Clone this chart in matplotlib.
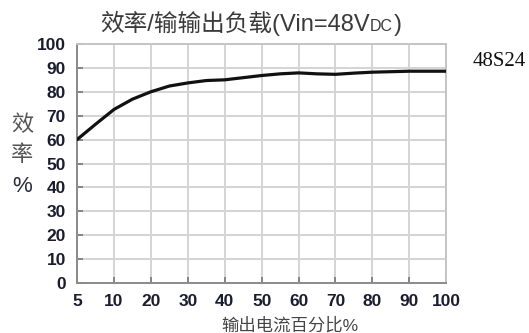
import matplotlib
matplotlib.use("Agg")
import matplotlib.pyplot as plt
import numpy as np

# x axis: load steps, evenly spaced on the chart
load_ticks = [5, 10, 20, 30, 40, 50, 60, 70, 80, 90, 100]
y_ticks = [0, 10, 20, 30, 40, 50, 60, 70, 80, 90, 100]

# efficiency curve, 48V input
load_pct = [5, 7.5, 10, 15, 20, 25, 30, 35, 40, 45, 50, 55, 60, 65, 70, 75, 80, 85, 90, 100]
efficiency = [60, 66.4, 72.6, 76.9, 80, 82.4, 83.7, 84.7, 85.0, 85.9, 86.8, 87.5,
              87.9, 87.5, 87.3, 87.8, 88.2, 88.4, 88.6, 88.6]

CJK = ['Liberation Sans', 'Noto Sans CJK SC', 'DejaVu Sans']
plt.rcParams['font.family'] = CJK

fig = plt.figure(figsize=(5.29, 3.33), dpi=100)
ax = fig.add_axes([0.1456, 0.150, 0.698, 0.718])

tick_pos = np.arange(len(load_ticks))
x = np.interp(load_pct, load_ticks, tick_pos)
ax.plot(x, efficiency, color='#111111', lw=2.3, solid_capstyle='round', zorder=3)

ax.set_xlim(0, len(load_ticks) - 1)
ax.set_ylim(0, 100)
ax.set_xticks(tick_pos)
ax.set_xticklabels([str(v) for v in load_ticks])
ax.set_yticks(y_ticks)

ax.grid(True, color='#d4d4d4', lw=1.4)
ax.set_axisbelow(True)
for side in ['left', 'bottom']:
    ax.spines[side].set_color('#8a8a8a')
    ax.spines[side].set_linewidth(1.4)
for side in ['top', 'right']:
    ax.spines[side].set_color('#c4c4c4')
    ax.spines[side].set_linewidth(1.4)

ax.tick_params(axis='both', direction='in', length=4, width=1.2, color='#777777',
               labelsize=12.5, labelcolor='#1c1c30')
ax.tick_params(axis='y', pad=8)
ax.tick_params(axis='x', pad=8)
for lab in ax.get_xticklabels() + ax.get_yticklabels():
    lab.set_fontweight('bold')

# title in three pieces so the subscript keeps the CJK fallback
title_y = 1 - 31 / 333
t_main = fig.text(100 / 529, title_y, '效率/输输出负载(Vin=48V', ha='left', va='baseline',
                  fontsize=17, color='#3a3a3a')
fig.canvas.draw()
r = fig.canvas.get_renderer()
bb = t_main.get_window_extent(r)
t_sub = fig.text((bb.x1 + 0.5) / 529, title_y, 'DC', ha='left', va='baseline', fontsize=11.5,
                 color='#3a3a3a')
bb2 = t_sub.get_window_extent(r)
fig.text((bb2.x1 + 0.5) / 529, title_y, ')', ha='left', va='baseline', fontsize=17,
         color='#3a3a3a')

fig.text(290 / 529, 1 - 325 / 333, '输出电流百分比%', ha='center', va='center', fontsize=12.5,
         color='#444444')

for ch, yy in [('效', 126), ('率', 155), ('%', 187)]:
    fig.text(22 / 529, 1 - yy / 333, ch, ha='center', va='center', fontsize=16,
             color='#555555' if ch != '%' else '#2a2a3a')

fig.text(473 / 529, 1 - 61 / 333, '48S24', ha='left', va='center', fontsize=15,
         family='Liberation Serif', color='#111111')

fig.savefig('out.png', dpi=100)
